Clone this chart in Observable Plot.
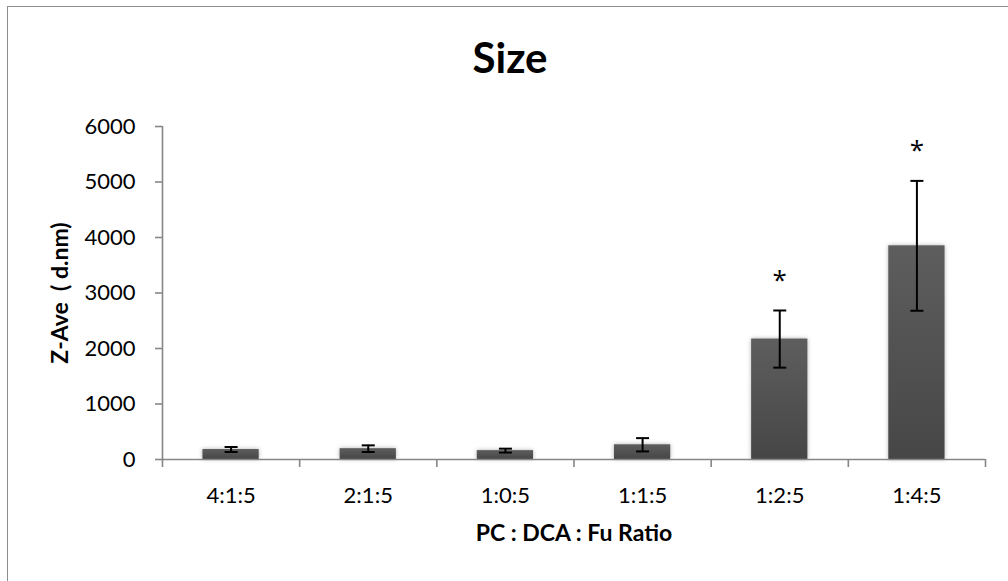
<!DOCTYPE html>
<html>
<head>
<meta charset="utf-8">
<script src="https://cdn.jsdelivr.net/npm/d3@7"></script>
<script src="https://cdn.jsdelivr.net/npm/@observablehq/plot@0.6"></script>
<style>
  html, body { margin: 0; padding: 0; background: #fff; overflow: hidden; }
  #chart { position: relative; width: 1008px; height: 581px; }
  #chart .border {
    position: absolute; left: 7px; top: 6px; width: 1100px; height: 700px;
    border: 1.5px solid #8c8c8c; pointer-events: none; box-sizing: border-box;
  }
  #chart svg { display: block; }
  .bars rect { filter: drop-shadow(0 0 2px rgba(0, 0, 0, 0.3)); }
</style>
</head>
<body>
<div id="chart"><div class="border"></div></div>
<script>
// Mean Z-average particle size by formulation ratio, with SD error bars.
const categories = ["4:1:5", "2:1:5", "1:0:5", "1:1:5", "1:2:5", "1:4:5"];
const zAve = [180, 195, 160, 265, 2170, 3850];
const errors = [45, 60, 35, 120, 515, 1170];
const significant = [false, false, false, false, true, true];
const yTicks = [0, 1000, 2000, 3000, 4000, 5000, 6000];

const title = "Size";
const xTitle = "PC : DCA : Fu Ratio";
const yTitle = "Z-Ave  ( d.nm)";

const rows = categories.map((c, i) => ({
  i, c, v: zAve[i], e: errors[i], sig: significant[i]
}));
const caps = rows.flatMap(d => [
  {i: d.i, y: d.v - d.e},
  {i: d.i, y: d.v + d.e}
]);

// categories sit on a continuous index axis: slot i spans [i, i + 1]
const barGap = 0.295;          // fraction of a slot left empty on each side of a bar
const center = d => d.i + 0.5;
const boundaries = d3.range(categories.length + 1);
const centers = categories.map((_, i) => i + 0.5);

const axisGrey = "#868686";
const font = "Lato, 'Open Sans', sans-serif";

// horizontal line used as the error-bar cap
const capSymbol = {
  draw(context, size) {
    const r = Math.sqrt(size / Math.PI);
    context.moveTo(-r, 0);
    context.lineTo(r, 0);
  }
};

const chart = Plot.plot({
  width: 1008,
  height: 581,
  marginLeft: 162,
  marginRight: 23,
  marginTop: 126,
  marginBottom: 122,
  style: {fontFamily: font, fontSize: "22px", color: "#000", background: "transparent"},
  x: {type: "linear", domain: [0, categories.length], axis: null},
  y: {domain: [0, 6000], axis: null},
  marks: [
    Plot.rectY(rows, {
      x1: d => d.i + barGap,
      x2: d => d.i + 1 - barGap,
      y: "v",
      fill: "url(#barFill)",
      className: "bars"
    }),
    Plot.ruleY([0], {stroke: axisGrey, strokeWidth: 1.6}),
    Plot.ruleX([0], {y1: 0, y2: 6000, stroke: axisGrey, strokeWidth: 1.6}),
    Plot.axisY({
      ticks: yTicks, tickSize: 7, tickPadding: 20, stroke: axisGrey, strokeWidth: 1.6,
      fill: "#000", fontSize: 22, label: null, tickFormat: d => String(d)
    }),
    Plot.axisX({
      ticks: boundaries, tickSize: 8, stroke: axisGrey, strokeWidth: 1.6,
      tickFormat: () => "", label: null
    }),
    Plot.axisX({
      ticks: centers, tickSize: 0, tickPadding: 28, fill: "#000", fontSize: 22,
      tickFormat: d => categories[Math.floor(d)], label: null
    }),
    Plot.ruleX(rows, {
      x: center, y1: d => d.v - d.e, y2: d => d.v + d.e,
      stroke: "#000", strokeWidth: 2
    }),
    Plot.dot(caps, {
      x: center, y: "y", symbol: capSymbol, r: 6.5,
      stroke: "#000", strokeWidth: 2, fill: "none"
    }),
    Plot.text(rows.filter(d => d.sig), {
      x: center, y: d => d.v + d.e, text: () => "*",
      dy: -30, fontSize: 26, fontFamily: "'Open Sans', sans-serif", fill: "#000"
    }),
    Plot.text([title], {
      frameAnchor: "top", lineAnchor: "middle", dx: -64, dy: -67,
      fontSize: 42, fontWeight: "bold", fill: "#000"
    }),
    Plot.text([xTitle], {
      frameAnchor: "bottom", lineAnchor: "middle", dy: 74,
      fontSize: 23, fontWeight: "bold", fill: "#000"
    }),
    Plot.text([yTitle], {
      frameAnchor: "left", textAnchor: "middle", lineAnchor: "middle", dx: -102, rotate: -90,
      fontSize: 23, fontWeight: "bold", fill: "#000"
    })
  ]
});

// vertical shading used by the bars
const ns = "http://www.w3.org/2000/svg";
const defs = document.createElementNS(ns, "defs");
defs.innerHTML =
  '<linearGradient id="barFill" x1="0" y1="0" x2="0" y2="1">' +
  '<stop offset="0" stop-color="#5e5e5e"/>' +
  '<stop offset="1" stop-color="#464646"/>' +
  '</linearGradient>';
chart.insertBefore(defs, chart.firstChild);

document.getElementById("chart").appendChild(chart);
</script>
</body>
</html>
